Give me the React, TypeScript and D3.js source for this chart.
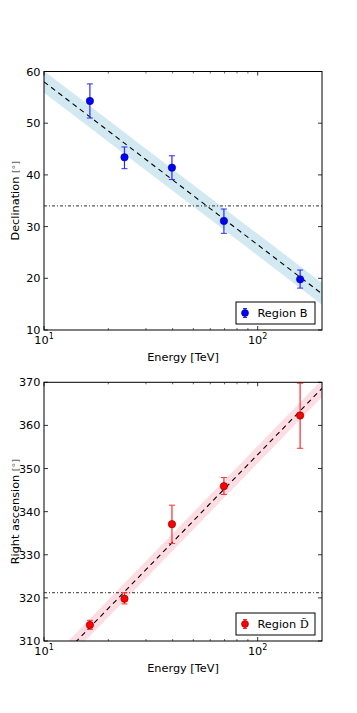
import { scaleLinear, scaleLog, line } from "d3";

// measured energies (TeV) of the five bins
const energies = [16.4, 23.8, 39.7, 69.5, 158];

// declination panel
const decValues = [54.3, 43.4, 41.4, 31.1, 19.8];
const decErrLow = [51.0, 41.2, 39.1, 28.7, 18.1];
const decErrHigh = [57.6, 45.4, 43.7, 33.4, 21.6];
const decTicks = [10, 20, 30, 40, 50, 60];

// right ascension panel
const raValues = [313.7, 319.8, 337.1, 345.9, 362.3];
const raErrLow = [312.7, 318.6, 332.6, 344.0, 354.7];
const raErrHigh = [314.8, 321.2, 341.5, 347.9, 369.8];
const raTicks = [310, 320, 330, 340, 350, 360, 370];

// fitted lines (end points) and their bands
const fitEnergy = [10, 200];
const decFit = [58.0, 17.0];
const decBandLow = [55.9, 14.9];
const decBandHigh = [60.1, 19.1];
const raFit = [302.2, 368.6];
const raBandLow = [300.2, 366.6];
const raBandHigh = [304.2, 370.6];

const decRef = 34.0;
const raRef = 321.2;

const minorTicks = [20, 30, 40, 50, 60, 70, 80, 90];
const majorTicks = [10, 100];

const FONT = "DejaVu Sans, sans-serif";
const FS = 11.3;

type PanelProps = {
  id: string;
  top: number;
  bottom: number;
  yDomain: [number, number];
  yTicks: number[];
  values: number[];
  lo: number[];
  hi: number[];
  fit: number[];
  bandLo: number[];
  bandHi: number[];
  refLine: number;
  color: string;
  edge: string;
  barColor: string;
  bandColor: string;
  yLabel: string;
  legend: "B" | "D";
};

function Panel(p: PanelProps) {
  const left = 44, right = 322;
  const x = scaleLog().domain([10, 200]).range([left, right]);
  const y = scaleLinear().domain(p.yDomain).range([p.bottom, p.top]);
  const fitPts = fitEnergy.map((e, i) => [x(e), y(p.fit[i])] as [number, number]);
  const bandPts = [
    ...fitEnergy.map((e, i) => [x(e), y(p.bandHi[i])]),
    ...fitEnergy.map((e, i) => [x(e), y(p.bandLo[i])]).reverse(),
  ] as [number, number][];
  const mk = line();
  const midY = (p.top + p.bottom) / 2;

  return (
    <g>
      <defs>
        <clipPath id={p.id}>
          <rect x={left} y={p.top} width={right - left} height={p.bottom - p.top} />
        </clipPath>
      </defs>
      <g clipPath={`url(#${p.id})`}>
        <path d={mk(bandPts) + "Z"} fill={p.bandColor} stroke="none" />
        <path d={mk(fitPts) ?? ""} fill="none" stroke="#000" strokeWidth={1.1} strokeDasharray="5,4" />
        <line x1={left} x2={right} y1={y(p.refLine)} y2={y(p.refLine)} stroke="#333" strokeWidth={1} strokeDasharray="3,2,1,2" />
      </g>

      {energies.map((e, i) => (
        <g key={i}>
          <line x1={x(e)} x2={x(e)} y1={y(p.lo[i])} y2={y(p.hi[i])} stroke={p.barColor} strokeWidth={1.2} />
          <line x1={x(e) - 3} x2={x(e) + 3} y1={y(p.lo[i])} y2={y(p.lo[i])} stroke={p.barColor} strokeWidth={1} />
          <line x1={x(e) - 3} x2={x(e) + 3} y1={y(p.hi[i])} y2={y(p.hi[i])} stroke={p.barColor} strokeWidth={1} />
          <circle cx={x(e)} cy={y(p.values[i])} r={3.7} fill={p.color} stroke={p.edge} strokeWidth={0.6} />
        </g>
      ))}

      {/* frame */}
      <rect x={left} y={p.top} width={right - left} height={p.bottom - p.top} fill="none" stroke="#000" strokeWidth={1} />

      {/* y ticks */}
      {p.yTicks.map((t) => (
        <g key={t}>
          <line x1={left} x2={left + 4} y1={y(t)} y2={y(t)} stroke="#000" strokeWidth={0.8} />
          <line x1={right} x2={right - 4} y1={y(t)} y2={y(t)} stroke="#000" strokeWidth={0.8} />
          <text x={left - 3.5} y={y(t) + 4} textAnchor="end" fontSize={FS} fontFamily={FONT}>{t}</text>
        </g>
      ))}

      {/* x ticks */}
      {minorTicks.map((t) => (
        <g key={t}>
          <line x1={x(t)} x2={x(t)} y1={p.bottom} y2={p.bottom - 2} stroke="#000" strokeWidth={0.6} />
          <line x1={x(t)} x2={x(t)} y1={p.top} y2={p.top + 2} stroke="#000" strokeWidth={0.6} />
        </g>
      ))}
      {majorTicks.map((t) => (
        <g key={t}>
          <line x1={x(t)} x2={x(t)} y1={p.bottom} y2={p.bottom - 4} stroke="#000" strokeWidth={0.8} />
          <line x1={x(t)} x2={x(t)} y1={p.top} y2={p.top + 4} stroke="#000" strokeWidth={0.8} />
          <text x={x(t)} y={p.bottom + 13.5} textAnchor="middle" fontSize={FS} fontFamily={FONT}>
            10<tspan fontSize={8} dy={-4.5}>{Math.round(Math.log10(t))}</tspan>
          </text>
        </g>
      ))}

      <text x={(left + right) / 2} y={p.bottom + 31} textAnchor="middle" fontSize={FS} fontFamily={FONT}>Energy [TeV]</text>
      <text transform={`translate(18.5,${midY}) rotate(-90)`} textAnchor="middle" fontSize={FS} fontFamily={FONT}>
        {p.yLabel} <tspan fill="#666" fontSize={9.5}>[°]</tspan>
      </text>

      {/* legend */}
      <g>
        <rect x={236} y={p.bottom - 28} width={79} height={22} fill="#fff" stroke="#000" strokeWidth={1} />
        <line x1={245} x2={245} y1={p.bottom - 21.5} y2={p.bottom - 12.5} stroke={p.barColor} strokeWidth={1.2} />
        <line x1={243} x2={247} y1={p.bottom - 21.5} y2={p.bottom - 21.5} stroke={p.barColor} strokeWidth={1} />
        <line x1={243} x2={247} y1={p.bottom - 12.5} y2={p.bottom - 12.5} stroke={p.barColor} strokeWidth={1} />
        <circle cx={245} cy={p.bottom - 17} r={3.5} fill={p.color} stroke={p.edge} strokeWidth={0.6} />
        <text x={257.5} y={p.bottom - 13} fontSize={FS} fontFamily={FONT}>
          Region {p.legend === "B" ? "B" : <tspan fontFamily="DejaVu Serif, serif">{"D\u0303"}</tspan>}
        </text>
      </g>
    </g>
  );
}

export default function App() {
  return (
    <svg width={357} height={713} style={{ position: "absolute", left: 0, top: 0, background: "#fff" }}>
      <Panel
        id="clipDec" top={71.5} bottom={330} yDomain={[10, 60]} yTicks={decTicks}
        values={decValues} lo={decErrLow} hi={decErrHigh}
        fit={decFit} bandLo={decBandLow} bandHi={decBandHigh} refLine={decRef}
        color="#0000ff" edge="#00007a" barColor="#2a2aff" bandColor="#d3e9f1"
        yLabel="Declination" legend="B"
      />
      <Panel
        id="clipRa" top={382.3} bottom={641} yDomain={[310, 370]} yTicks={raTicks}
        values={raValues} lo={raErrLow} hi={raErrHigh}
        fit={raFit} bandLo={raBandLow} bandHi={raBandHigh} refLine={raRef}
        color="#ff0000" edge="#7a0000" barColor="#ff2a2a" bandColor="#fddde3"
        yLabel="Right ascension" legend="D"
      />
    </svg>
  );
}
